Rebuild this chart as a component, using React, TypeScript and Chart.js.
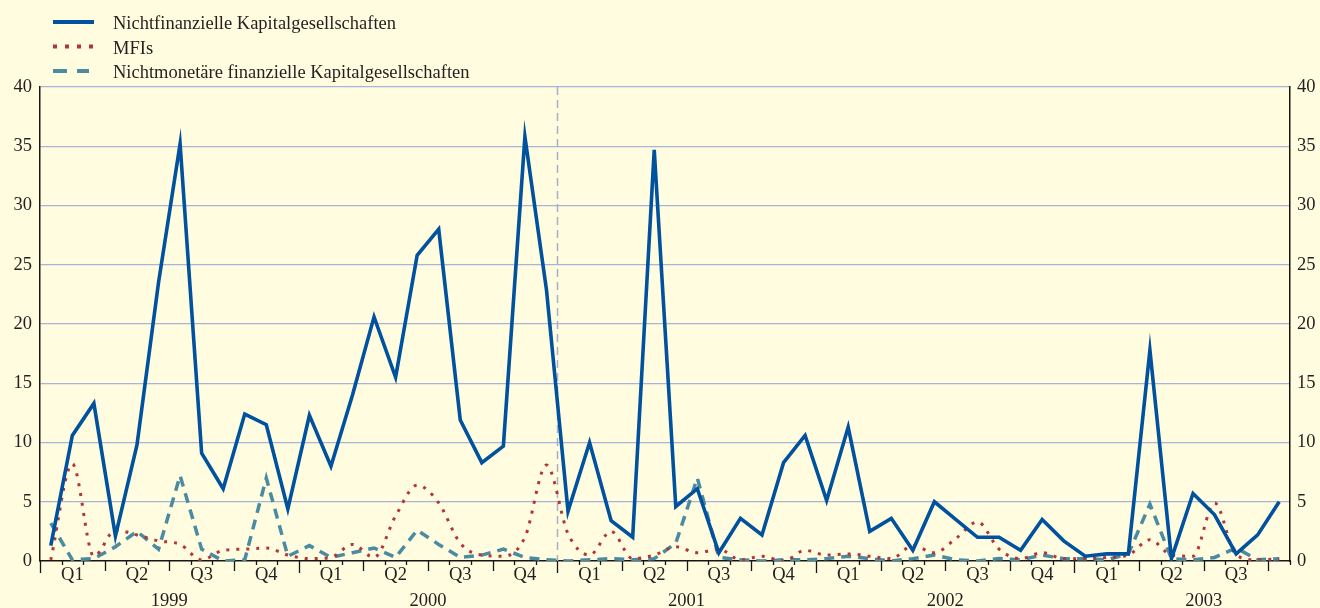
import React, { useEffect, useRef } from 'react';
import { Chart, registerables } from 'chart.js';

Chart.register(...registerables);

// ---------- data ----------
const months = [
  'Jan 99', 'Feb 99', 'Mar 99', 'Apr 99', 'May 99', 'Jun 99', 'Jul 99', 'Aug 99', 'Sep 99', 'Oct 99', 'Nov 99', 'Dec 99',
  'Jan 00', 'Feb 00', 'Mar 00', 'Apr 00', 'May 00', 'Jun 00', 'Jul 00', 'Aug 00', 'Sep 00', 'Oct 00', 'Nov 00', 'Dec 00',
  'Jan 01', 'Feb 01', 'Mar 01', 'Apr 01', 'May 01', 'Jun 01', 'Jul 01', 'Aug 01', 'Sep 01', 'Oct 01', 'Nov 01', 'Dec 01',
  'Jan 02', 'Feb 02', 'Mar 02', 'Apr 02', 'May 02', 'Jun 02', 'Jul 02', 'Aug 02', 'Sep 02', 'Oct 02', 'Nov 02', 'Dec 02',
  'Jan 03', 'Feb 03', 'Mar 03', 'Apr 03', 'May 03', 'Jun 03', 'Jul 03', 'Aug 03', 'Sep 03', 'Oct 03',
];

const nichtfinanzielle = [
  1.3, 10.6, 13.3, 2.1, 9.8, 23.5, 35.2, 9.1, 6.1, 12.4, 11.5, 4.4,
  12.3, 8.0, 14.0, 20.6, 15.5, 25.8, 28.0, 11.9, 8.3, 9.7, 35.8, 22.9,
  4.2, 10.0, 3.4, 2.0, 34.7, 4.6, 6.1, 0.7, 3.6, 2.2, 8.3, 10.6,
  5.1, 11.3, 2.5, 3.6, 0.9, 5.0, 3.5, 2.0, 2.0, 0.9, 3.5, 1.7,
  0.4, 0.6, 0.6, 17.8, 0.2, 5.7, 3.9, 0.6, 2.2, 5.0,
];

const mfis = [
  0.1, 8.2, 0.4, 2.6, 2.2, 1.7, 1.4, 0.1, 0.9, 1.0, 1.1, 0.5,
  0.2, 0.3, 1.4, 0.3, 3.8, 6.4, 4.9, 1.5, 0.5, 0.4, 2.0, 8.1,
  2.3, 0.5, 2.5, 0.2, 0.5, 1.2, 0.7, 1.0, 0.1, 0.4, 0.0, 0.9,
  0.5, 0.6, 0.4, 0.2, 1.3, 0.7, 1.9, 3.3, 1.0, 0.2, 0.7, 0.2,
  0.2, 0.3, 0.5, 1.8, 0.5, 0.4, 4.9, 0.5, 0.1, 0.2,
];

const nichtmonetaere = [
  3.2, 0.1, 0.2, 1.2, 2.5, 1.0, 7.2, 1.0, 0.0, 0.1, 7.0, 0.4,
  1.3, 0.3, 0.7, 1.1, 0.3, 2.6, 1.4, 0.3, 0.5, 1.0, 0.3, 0.1,
  0.0, 0.1, 0.2, 0.1, 0.2, 1.5, 7.0, 0.3, 0.1, 0.0, 0.1, 0.1,
  0.2, 0.4, 0.2, 0.0, 0.2, 0.5, 0.1, 0.0, 0.2, 0.1, 0.5, 0.2,
  0.2, 0.1, 0.6, 4.8, 0.2, 0.1, 0.3, 1.1, 0.1, 0.2,
];

const seriesLabels = [
  'Nichtfinanzielle Kapitalgesellschaften',
  'MFIs',
  'Nichtmonetäre finanzielle Kapitalgesellschaften',
];
const quarterLabels = ['Q1', 'Q2', 'Q3', 'Q4'];
const yearLabels = ['1999', '2000', '2001', '2002', '2003'];
const yTicks = [0, 5, 10, 15, 20, 25, 30, 35, 40];
const dividerMonth = 24; // boundary before Jan 01

// ---------- style ----------
const BG = '#FFFCDF';
const BLUE = '#00519E';
const RED = '#B2353A';
const TEAL = '#4B8BA2';
const GRID = '#A9B4DA';
const AXIS = '#161616';
const TEXT = '#231F20';
const FONT = '"Liberation Serif", "Times New Roman", serif';
const FSIZE = 18.5;

const decorPlugin = {
  id: 'decor',
  beforeDraw(chart: any) {
    const { ctx, width, height } = chart;
    ctx.save();
    ctx.fillStyle = BG;
    ctx.fillRect(0, 0, width, height);
    ctx.restore();
  },
  beforeDatasetsDraw(chart: any) {
    const { ctx, chartArea } = chart;
    const xs = chart.scales.x;
    const half = (xs.getPixelForValue(1) - xs.getPixelForValue(0)) / 2;
    const px = Math.round(xs.getPixelForValue(dividerMonth) - half) + 0.5;
    ctx.save();
    ctx.strokeStyle = '#A9AFC8';
    ctx.lineWidth = 1.5;
    ctx.setLineDash([8, 5]);
    ctx.beginPath();
    ctx.moveTo(px, chartArea.top);
    ctx.lineTo(px, chartArea.bottom);
    ctx.stroke();
    ctx.restore();
  },
  afterDraw(chart: any) {
    const { ctx, chartArea } = chart;
    const xs = chart.scales.x;
    const n = months.length;
    const half = (xs.getPixelForValue(1) - xs.getPixelForValue(0)) / 2;
    const bottom = chartArea.bottom;
    ctx.save();
    // tick marks
    ctx.strokeStyle = AXIS;
    ctx.lineWidth = 1.3;
    for (let b = 0; b <= n; b++) {
      const x = b < n ? xs.getPixelForValue(b) - half : xs.getPixelForValue(n - 1) + half;
      const len = b % 12 === 0 ? 12 : b % 3 === 0 ? 10 : 4;
      ctx.beginPath();
      ctx.moveTo(Math.round(x) + 0.5, bottom);
      ctx.lineTo(Math.round(x) + 0.5, bottom + len);
      ctx.stroke();
    }
    // quarter labels
    ctx.fillStyle = TEXT;
    ctx.font = `${FSIZE}px ${FONT}`;
    ctx.textAlign = 'center';
    ctx.textBaseline = 'alphabetic';
    for (let q = 0; q * 3 + 2 < n; q++) {
      const x = xs.getPixelForValue(q * 3 + 1);
      ctx.fillText(quarterLabels[q % 4], x, bottom + 19);
    }
    // year labels
    yearLabels.forEach((yl, i) => {
      const x = xs.getPixelForValue(i * 12 + 5) + half;
      ctx.fillText(yl, x, bottom + 45);
    });
    // legend
    const lx0 = 53;
    const lx1 = 94;
    const rows = [22, 46.5, 71];
    const bases = [29, 53.5, 78];
    ctx.lineCap = 'butt';
    ctx.strokeStyle = BLUE;
    ctx.lineWidth = 4;
    ctx.setLineDash([]);
    ctx.beginPath();
    ctx.moveTo(lx0, rows[0]);
    ctx.lineTo(lx1, rows[0]);
    ctx.stroke();
    ctx.strokeStyle = RED;
    ctx.lineWidth = 4;
    ctx.setLineDash([4, 8]);
    ctx.beginPath();
    ctx.moveTo(lx0, rows[1]);
    ctx.lineTo(lx1, rows[1]);
    ctx.stroke();
    ctx.strokeStyle = TEAL;
    ctx.lineWidth = 4;
    ctx.setLineDash([14, 10]);
    ctx.beginPath();
    ctx.moveTo(lx0, rows[2]);
    ctx.lineTo(lx1 - 5, rows[2]);
    ctx.stroke();
    ctx.setLineDash([]);
    ctx.textAlign = 'left';
    ctx.fillStyle = TEXT;
    seriesLabels.forEach((s, i) => ctx.fillText(s, 113, bases[i]));
    ctx.restore();
  },
};

export default function App() {
  const ref = useRef<HTMLCanvasElement | null>(null);

  useEffect(() => {
    document.body.style.margin = '0';
    document.body.style.background = BG;
    const canvas = ref.current;
    if (!canvas) return;
    const tickFont = { family: FONT, size: FSIZE };
    const chart = new Chart(canvas, {
      type: 'line',
      data: {
        labels: months,
        datasets: [
          {
            label: seriesLabels[0],
            data: nichtfinanzielle,
            borderColor: BLUE,
            borderWidth: 3.6,
            pointRadius: 0,
            tension: 0,
            fill: false,
            yAxisID: 'y',
          },
          {
            label: seriesLabels[1],
            data: mfis,
            borderColor: RED,
            borderWidth: 3,
            borderDash: [3, 7],
            pointRadius: 0,
            cubicInterpolationMode: 'monotone',
            fill: false,
            yAxisID: 'y',
          },
          {
            label: seriesLabels[2],
            data: nichtmonetaere,
            borderColor: TEAL,
            borderWidth: 3.5,
            borderDash: [10, 7],
            pointRadius: 0,
            tension: 0,
            fill: false,
            yAxisID: 'y',
          },
        ],
      },
      options: {
        responsive: false,
        animation: false,
        events: [],
        layout: { padding: { top: 87, left: 0, right: 0, bottom: 0 } },
        plugins: {
          legend: { display: false },
          title: { display: false },
          tooltip: { enabled: false },
        },
        scales: {
          x: {
            type: 'category',
            offset: true,
            grid: { display: false },
            border: { display: true, color: AXIS, width: 1.5 },
            ticks: { display: false },
            afterFit(s: any) {
              s.height = 47;
            },
          },
          y: {
            position: 'left',
            min: 0,
            max: 40,
            afterBuildTicks(s: any) {
              s.ticks = yTicks.map((v) => ({ value: v }));
            },
            ticks: { font: tickFont, color: TEXT, padding: 8 },
            grid: {
              color: (c: any) => (c.tick && c.tick.value === 0 ? 'rgba(0,0,0,0)' : GRID),
              lineWidth: 1.3,
              drawTicks: false,
            },
            border: { display: true, color: AXIS, width: 1.5 },
            afterFit(s: any) {
              s.width = 40;
            },
          },
          y2: {
            position: 'right',
            min: 0,
            max: 40,
            afterBuildTicks(s: any) {
              s.ticks = yTicks.map((v) => ({ value: v }));
            },
            ticks: { font: tickFont, color: TEXT, padding: 7 },
            grid: { drawOnChartArea: false, drawTicks: false },
            border: { display: true, color: AXIS, width: 1.5 },
            afterFit(s: any) {
              s.width = 30;
            },
          },
        },
      },
      plugins: [decorPlugin],
    } as any);
    return () => chart.destroy();
  }, []);

  return (
    <div style={{ position: 'absolute', left: 0, top: 0, width: 1320, height: 608 }}>
      <canvas ref={ref} width={1320} height={608} style={{ display: 'block' }} />
    </div>
  );
}
